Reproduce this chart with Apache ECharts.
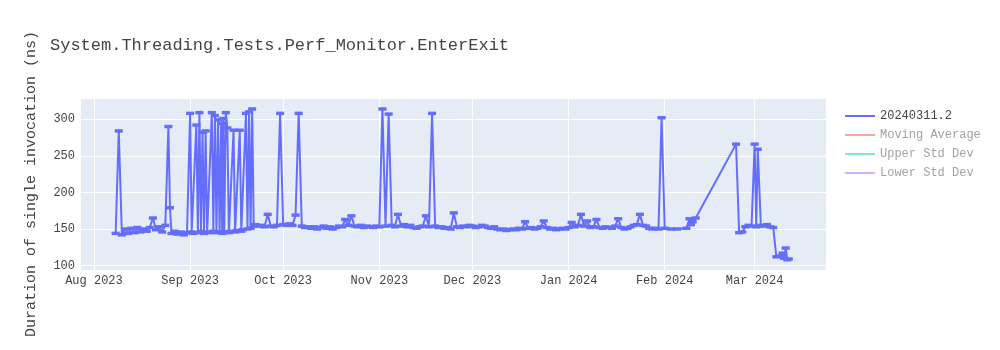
<!DOCTYPE html>
<html>
<head>
<meta charset="utf-8">
<script src="https://cdn.jsdelivr.net/npm/echarts@6/dist/echarts.min.js"></script>
<style>html,body{margin:0;padding:0;background:#fff}#c{width:1000px;height:350px}</style>
</head>
<body>
<div id="c"></div>
<script>
const TITLE = 'System.Threading.Tests.Perf_Monitor.EnterExit';
const Y_TITLE = 'Duration of single invocation (ns)';
const SERIES_NAME = '20240311.2';
const LEGEND_NAMES = ['20240311.2', 'Moving Average', 'Upper Std Dev', 'Lower Std Dev'];
const MONTHS = ['Jan','Feb','Mar','Apr','May','Jun','Jul','Aug','Sep','Oct','Nov','Dec'];
const ERR = 1;

const dates = [
'2023-08-08','2023-08-09','2023-08-10','2023-08-11','2023-08-12','2023-08-13','2023-08-14','2023-08-15','2023-08-16','2023-08-17',
'2023-08-18','2023-08-19','2023-08-20','2023-08-21','2023-08-22','2023-08-23','2023-08-24','2023-08-25 00:00','2023-08-25 12:00','2023-08-26',
'2023-08-27','2023-08-28','2023-08-29','2023-08-30','2023-08-31','2023-09-01 00:00','2023-09-01 12:00','2023-09-02','2023-09-03 00:00','2023-09-03 12:00',
'2023-09-04 00:00','2023-09-04 12:00','2023-09-05 00:00','2023-09-05 12:00','2023-09-06 00:00','2023-09-06 12:00','2023-09-07','2023-09-08 00:00','2023-09-08 12:00','2023-09-09 00:00',
'2023-09-09 12:00','2023-09-10 00:00','2023-09-10 12:00','2023-09-11 00:00','2023-09-11 08:00','2023-09-11 16:00','2023-09-12 00:00','2023-09-12 12:00','2023-09-13 00:00','2023-09-13 12:00',
'2023-09-14','2023-09-15 00:00','2023-09-15 12:00','2023-09-16','2023-09-17 00:00','2023-09-17 12:00','2023-09-18','2023-09-19 00:00','2023-09-19 12:00','2023-09-20 00:00',
'2023-09-20 12:00','2023-09-21 00:00','2023-09-21 12:00','2023-09-22','2023-09-23','2023-09-24','2023-09-25','2023-09-26','2023-09-27','2023-09-28',
'2023-09-29','2023-09-30','2023-10-01','2023-10-02','2023-10-03','2023-10-04','2023-10-05','2023-10-06','2023-10-07','2023-10-08',
'2023-10-09','2023-10-10','2023-10-11','2023-10-12','2023-10-13','2023-10-14','2023-10-15','2023-10-16','2023-10-17','2023-10-18',
'2023-10-19','2023-10-20','2023-10-21','2023-10-22','2023-10-23','2023-10-24','2023-10-25','2023-10-26','2023-10-27','2023-10-28',
'2023-10-29','2023-10-30','2023-10-31','2023-11-01','2023-11-02','2023-11-03','2023-11-04','2023-11-05','2023-11-06','2023-11-07',
'2023-11-08','2023-11-09','2023-11-10','2023-11-11','2023-11-12','2023-11-13','2023-11-14','2023-11-15','2023-11-16','2023-11-17',
'2023-11-18','2023-11-19','2023-11-20','2023-11-21','2023-11-22','2023-11-23','2023-11-24','2023-11-25','2023-11-26','2023-11-27',
'2023-11-28','2023-11-29','2023-11-30','2023-12-01','2023-12-02','2023-12-03','2023-12-04','2023-12-05','2023-12-06','2023-12-07',
'2023-12-08','2023-12-09','2023-12-10','2023-12-11','2023-12-12','2023-12-13','2023-12-14','2023-12-15','2023-12-16','2023-12-17',
'2023-12-18','2023-12-19','2023-12-20','2023-12-21','2023-12-22','2023-12-23','2023-12-24','2023-12-25','2023-12-26','2023-12-27',
'2023-12-28','2023-12-29','2023-12-30','2023-12-31','2024-01-01','2024-01-02','2024-01-03','2024-01-04','2024-01-05','2024-01-06',
'2024-01-07','2024-01-08','2024-01-09','2024-01-10','2024-01-11','2024-01-12','2024-01-13','2024-01-14','2024-01-15','2024-01-16',
'2024-01-17','2024-01-18','2024-01-19','2024-01-20','2024-01-21','2024-01-22','2024-01-23','2024-01-24','2024-01-25','2024-01-26',
'2024-01-27','2024-01-28','2024-01-29','2024-01-30','2024-01-31','2024-02-01','2024-02-03','2024-02-05','2024-02-08','2024-02-09 00:00',
'2024-02-09 12:00','2024-02-10','2024-02-11','2024-02-24','2024-02-25','2024-02-26','2024-02-27','2024-02-28','2024-02-29','2024-03-01 00:00',
'2024-03-01 12:00','2024-03-02','2024-03-03','2024-03-04','2024-03-05','2024-03-06','2024-03-07','2024-03-08','2024-03-09','2024-03-10 00:00',
'2024-03-10 12:00','2024-03-11 00:00','2024-03-11 12:00','2024-03-12'
];

const values = [
144,284,142,150,144,151,145,152,146,150,
147,152,165,149,153,146,155,290,179,144,
147,143,146,142,145,308,146,144,292,145,
309,147,282,144,284,146,145,309,147,305,
145,299,146,294,144,301,146,309,288,145,
147,285,146,148,285,147,149,308,150,310,
151,314,155,156,154,155,153,170,154,153,
155,308,156,155,157,155,169,308,154,152,
153,151,153,150,152,154,151,153,150,152,
154,153,163,155,168,154,153,155,152,154,
153,152,154,153,314,154,307,155,153,170,
154,156,153,155,152,151,153,154,168,153,
308,154,152,153,151,152,150,172,153,152,
154,153,155,154,152,153,155,154,152,151,
153,150,149,150,148,149,150,149,151,150,
160,151,152,150,151,153,161,152,150,151,
149,150,151,150,152,159,153,155,170,154,
161,152,153,163,152,151,153,152,151,154,
164,152,150,151,153,155,156,170,155,154,
151,150,151,150,302,151,150,150,151,164,
156,160,165,266,145,146,153,155,154,266,
153,259,155,154,156,153,152,112,113,117,
110,124,108,109
];

const lineData = dates.map((d, i) => [d, values[i]]);

const chart = echarts.init(document.getElementById('c'), null, {renderer: 'canvas'});
const FONT = 'Liberation Mono, DejaVu Sans Mono, monospace';

chart.setOption({
  animation: false,
  backgroundColor: '#fff',
  textStyle: {fontFamily: FONT},
  title: {
    text: TITLE, left: 45, top: 32,
    textStyle: {fontFamily: FONT, fontSize: 17, fontWeight: 'normal', color: '#444'}
  },
  grid: {left: 80, right: 174, top: 98, bottom: 80, show: true, backgroundColor: '#e5ecf6', borderWidth: 0},
  legend: {
    orient: 'vertical', left: 840, top: 105, itemGap: 7,
    itemWidth: 30, itemHeight: 2, icon: 'rect',
    textStyle: {fontFamily: FONT, fontSize: 12, color: '#444'},
    data: [
      {name: LEGEND_NAMES[0], itemStyle: {color: '#636efa'}},
      {name: LEGEND_NAMES[1], itemStyle: {color: '#f7aa9d'}, textStyle: {color: '#a2a2a2'}},
      {name: LEGEND_NAMES[2], itemStyle: {color: '#80e6cb'}, textStyle: {color: '#a2a2a2'}},
      {name: LEGEND_NAMES[3], itemStyle: {color: '#d5b1fd'}, textStyle: {color: '#a2a2a2'}}
    ]
  },
  xAxis: {
    type: 'time',
    min: '2023-07-27 12:00', max: '2024-03-24 00:00',
    minInterval: 28 * 86400000, maxInterval: 31 * 86400000,
    axisLine: {show: false}, axisTick: {show: false},
    splitLine: {show: true, lineStyle: {color: '#fff', width: 1}},
    axisLabel: {
      fontFamily: FONT, fontSize: 12, color: '#444', margin: 5, hideOverlap: false,
      formatter: function (v) { const d = new Date(v); return MONTHS[d.getMonth()] + ' ' + d.getFullYear(); }
    }
  },
  yAxis: {
    type: 'value', min: 94, max: 329,
    name: Y_TITLE, nameLocation: 'middle', nameRotate: 90, nameGap: 41,
    nameTextStyle: {fontFamily: FONT, fontSize: 15, color: '#444'},
    axisLine: {show: false}, axisTick: {show: false},
    splitLine: {show: true, lineStyle: {color: '#fff', width: 1}},
    axisLabel: {
      fontFamily: FONT, fontSize: 12, color: '#444', margin: 5, showMinLabel: false, showMaxLabel: false,
      formatter: function (v) { return (v % 50 === 0) ? String(v) : ''; }
    }
  },
  series: [
    {
      name: SERIES_NAME, type: 'line', data: lineData, showSymbol: false, symbol: 'none',
      lineStyle: {color: '#636efa', width: 2}, itemStyle: {color: '#636efa'}, z: 3
    },
    {
      name: SERIES_NAME, type: 'custom', data: lineData, z: 4,
      renderItem: function (params, api) {
        const t = api.value(0), v = api.value(1);
        const top = api.coord([t, v + ERR]);
        const bot = api.coord([t, v - ERR]);
        const hw = 4;
        const st = {stroke: '#636efa', lineWidth: 2};
        return {type: 'group', children: [
          {type: 'line', shape: {x1: top[0], y1: top[1], x2: bot[0], y2: bot[1]}, style: st},
          {type: 'line', shape: {x1: top[0] - hw, y1: top[1], x2: top[0] + hw, y2: top[1]}, style: st},
          {type: 'line', shape: {x1: bot[0] - hw, y1: bot[1], x2: bot[0] + hw, y2: bot[1]}, style: st}
        ]};
      }
    },
    {name: LEGEND_NAMES[1], type: 'line', data: [], itemStyle: {color: '#f7aa9d'}},
    {name: LEGEND_NAMES[2], type: 'line', data: [], itemStyle: {color: '#80e6cb'}},
    {name: LEGEND_NAMES[3], type: 'line', data: [], itemStyle: {color: '#d5b1fd'}}
  ]
});
</script>
</body>
</html>
